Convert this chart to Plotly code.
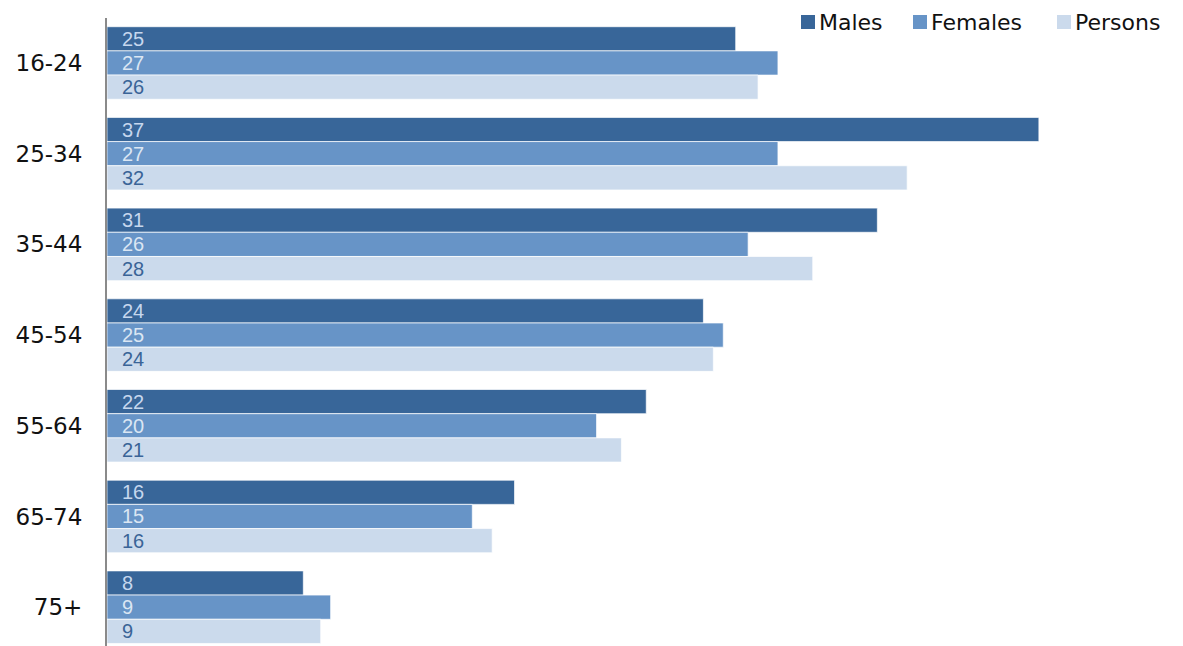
import plotly.graph_objects as go

categories = ["16-24", "25-34", "35-44", "45-54", "55-64", "65-74", "75+"]
males = [25.3, 37.5, 31.0, 24.0, 21.7, 16.4, 7.9]
females = [27.0, 27.0, 25.8, 24.8, 19.7, 14.7, 9.0]
persons = [26.2, 32.2, 28.4, 24.4, 20.7, 15.5, 8.6]
males_lbl = ["25", "37", "31", "24", "22", "16", "8"]
females_lbl = ["27", "27", "26", "25", "20", "15", "9"]
persons_lbl = ["26", "32", "28", "24", "21", "16", "9"]

series = [
    ("Males", males, males_lbl, "#386699", "#c6d7ee"),
    ("Females", females, females_lbl, "#6794c7", "#dbe6f3"),
    ("Persons", persons, persons_lbl, "#cbdaec", "#3a6497"),
]

# legend layout (pixel positions of each legend square's left edge)
W, H = 1183, 646
ML, MR, MT, MB = 107, 82, 18, 0
PW, PH = W - ML - MR, H - MT - MB
legend_px = [801, 913, 1057]
legend_cy = 22

def px_to_paper_x(px):
    return (px - ML) / PW

def py_to_paper_y(py):
    return 1 - (py - MT) / PH

fig = go.Figure()
annotations = []
shapes = []
n = len(series)
bar_w = 0.8 / n
for k, (name, vals, lbls, col, tcol) in enumerate(series):
    fig.add_trace(go.Bar(
        y=categories, x=vals, name=name, orientation="h", showlegend=False,
        marker=dict(color=col, line=dict(color="rgba(255,255,255,0.7)", width=1)),
    ))
    off = (k - (n - 1) / 2) * bar_w
    for i, t in enumerate(lbls):
        annotations.append(dict(
            x=0, y=i + off, xref="x", yref="y", text=t, showarrow=False,
            xanchor="left", yanchor="middle", xshift=14, borderpad=0,
            font=dict(family="Liberation Sans", size=20, color=tcol),
        ))
    # legend entry
    sx = legend_px[k]
    shapes.append(dict(
        type="rect", xref="paper", yref="paper",
        x0=px_to_paper_x(sx), x1=px_to_paper_x(sx + 14),
        y0=py_to_paper_y(legend_cy - 7), y1=py_to_paper_y(legend_cy + 7),
        fillcolor=col, line=dict(width=0),
    ))
    annotations.append(dict(
        x=px_to_paper_x(sx + 16), y=py_to_paper_y(legend_cy), xref="paper", yref="paper",
        text=name, showarrow=False, xanchor="left", yanchor="middle",
        font=dict(family="DejaVu Sans", size=22, color="#111111"),
    ))

fig.update_layout(
    width=W, height=H,
    margin=dict(l=ML, r=MR, t=MT, b=MB),
    paper_bgcolor="white", plot_bgcolor="white",
    barmode="group", bargap=0.2, bargroupgap=0,
    annotations=annotations, shapes=shapes,
    showlegend=False,
    xaxis=dict(range=[0, 40], visible=False, showgrid=False, zeroline=False),
    yaxis=dict(categoryorder="array", categoryarray=categories,
               range=[6.428, -0.496], showline=True, linecolor="#8a8a8a", linewidth=2,
               showgrid=False, zeroline=False, ticks="", ticklabelstandoff=18,
               tickfont=dict(family="DejaVu Sans", size=23, color="#111111")),
)

fig.write_html("out.html")
